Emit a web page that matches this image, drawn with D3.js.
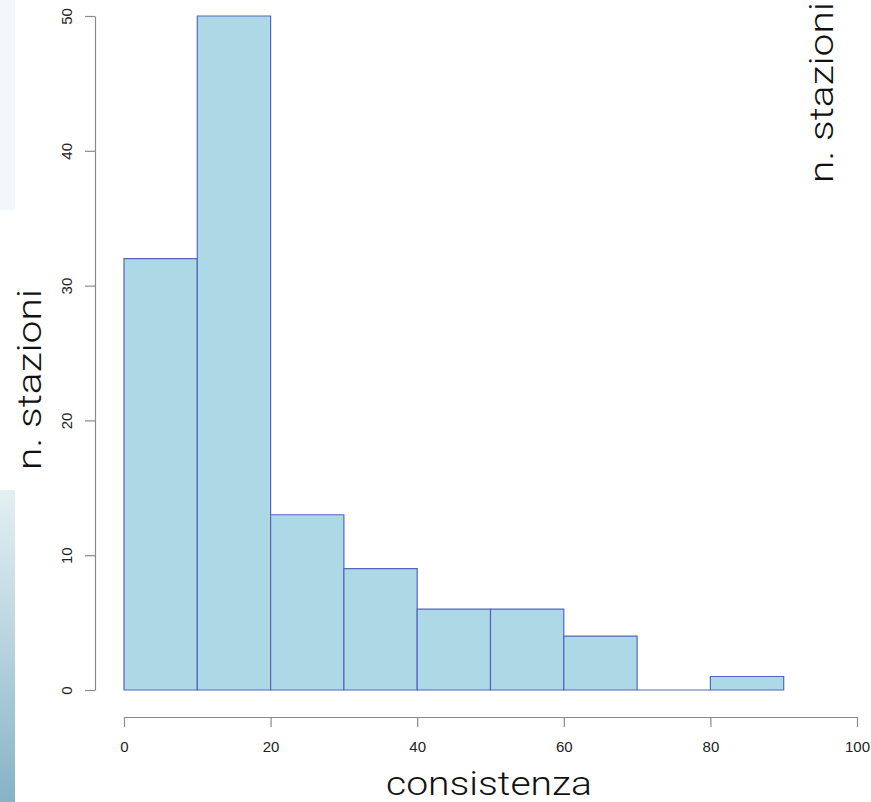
<!DOCTYPE html>
<html>
<head>
<meta charset="utf-8">
<script src="https://cdn.jsdelivr.net/npm/d3@7/dist/d3.min.js"></script>
<style>
  html, body { margin: 0; padding: 0; background: #fff; }
  svg { display: block; }
</style>
</head>
<body>
<svg id="chart" width="871" height="802"></svg>
<script>
// Histogram bins (left edge, right edge) and station counts per bin
const binStart = [0, 10, 20, 30, 40, 50, 60, 70, 80];
const binEnd   = [10, 20, 30, 40, 50, 60, 70, 80, 90];
const counts   = [32, 50, 13, 9, 6, 6, 4, 0, 1];
const xTicks   = [0, 20, 40, 60, 80, 100];
const yTicks   = [0, 10, 20, 30, 40, 50];
const xTitle   = "consistenza";
const yTitle   = "n. stazioni";

const svg = d3.select("#chart");

// Side decoration strips
const defs = svg.append("defs");
const grad = defs.append("linearGradient")
  .attr("id", "stripGrad").attr("x1", 0).attr("y1", 0).attr("x2", 0).attr("y2", 1);
grad.append("stop").attr("offset", "0%").attr("stop-color", "#e4eff3");
grad.append("stop").attr("offset", "45%").attr("stop-color", "#bcd6e0");
grad.append("stop").attr("offset", "100%").attr("stop-color", "#86b3c6");
svg.append("rect").attr("x", 0).attr("y", 0).attr("width", 15).attr("height", 210)
  .attr("fill", "#f2f8fa");
svg.append("rect").attr("x", 0).attr("y", 490).attr("width", 15).attr("height", 312)
  .attr("fill", "url(#stripGrad)");

const x = d3.scaleLinear().domain([0, 100]).range([124, 857]);
const y = d3.scaleLinear().domain([0, 50]).range([690, 16]);

const axisColor = "#8a8a8a";
const tickFont = "'Liberation Sans', Arial, sans-serif";
const titleFont = "Roboto, 'Open Sans', sans-serif";

// Bars as closed paths so that an empty bin still shows its outline on the baseline
svg.append("g").selectAll("path")
  .data(counts)
  .join("path")
  .attr("d", (d, i) => {
    const p = d3.path();
    p.rect(x(binStart[i]), y(d), x(binEnd[i]) - x(binStart[i]), y(0) - y(d));
    return p.toString();
  })
  .attr("fill", "#add8e6")
  .attr("stroke", "#5864c2")
  .attr("stroke-width", 1.2);

// X axis
const gx = svg.append("g")
  .attr("transform", `translate(0,717)`)
  .call(d3.axisBottom(x).tickValues(xTicks).tickSize(10).tickSizeOuter(0).tickPadding(14));
gx.select(".domain").attr("stroke", axisColor).attr("stroke-width", 1.2);
gx.selectAll(".tick line").attr("stroke", axisColor).attr("stroke-width", 1.2);
gx.selectAll(".tick text")
  .attr("font-family", tickFont).attr("font-size", 15).attr("fill", "#222");

// Y axis
const gy = svg.append("g")
  .attr("transform", `translate(95,0)`)
  .call(d3.axisLeft(y).tickValues(yTicks).tickSize(10).tickSizeOuter(0));
gy.select(".domain").attr("stroke", axisColor).attr("stroke-width", 1.2);
gy.selectAll(".tick line").attr("stroke", axisColor).attr("stroke-width", 1.2);
gy.selectAll(".tick text")
  .attr("font-family", tickFont).attr("font-size", 15).attr("fill", "#222")
  .attr("text-anchor", "middle")
  .attr("x", 0).attr("dy", 0)
  .attr("transform", "translate(-23,0) rotate(-90)");

// X title on a white plate that trims the lower edge of nearby tick labels
svg.append("rect").attr("x", 385).attr("y", 752).attr("width", 215).attr("height", 50)
  .attr("fill", "#fff");
svg.append("text")
  .attr("x", 386).attr("y", 795)
  .attr("font-family", titleFont).attr("font-weight", 300)
  .attr("font-size", 33).attr("fill", "#111")
  .attr("textLength", 206).attr("lengthAdjust", "spacingAndGlyphs")
  .text(xTitle);

// Y titles
[[41, 470], [833, 183]].forEach(([tx, ty]) => {
  svg.append("text")
    .attr("transform", `translate(${tx},${ty}) rotate(-90)`)
    .attr("font-family", titleFont).attr("font-weight", 300)
    .attr("font-size", 33).attr("fill", "#111")
    .attr("textLength", 181).attr("lengthAdjust", "spacingAndGlyphs")
    .text(yTitle);
});
</script>
</body>
</html>
